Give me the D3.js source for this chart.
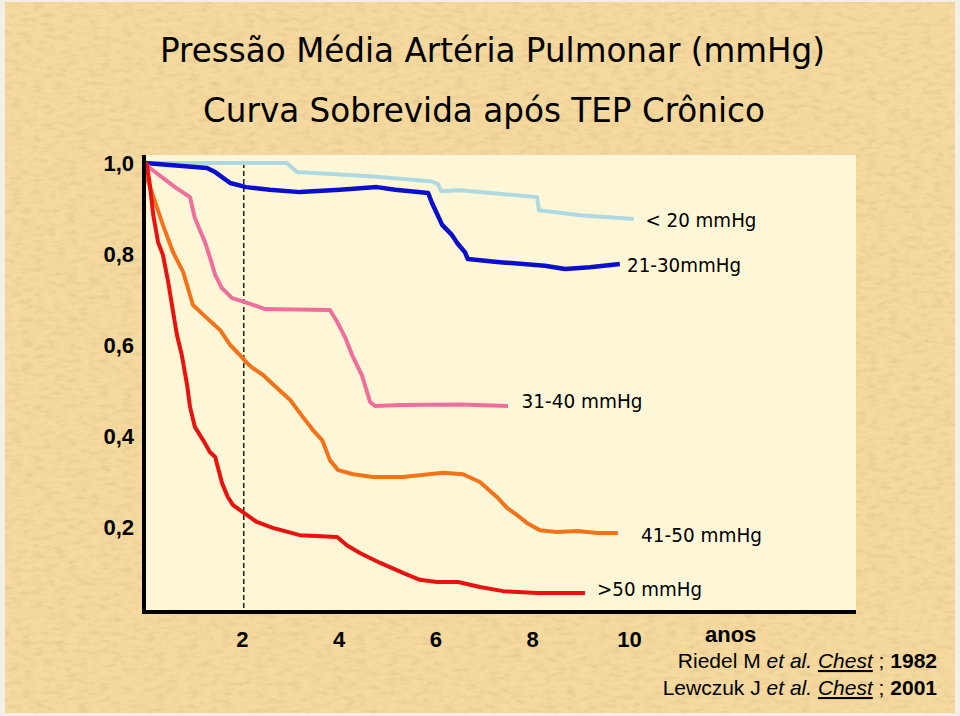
<!DOCTYPE html>
<html>
<head>
<meta charset="utf-8">
<script src="https://cdn.jsdelivr.net/npm/d3@7/dist/d3.min.js"></script>
<style>
  html, body { margin: 0; padding: 0; background: #f4efe4; }
  svg { display: block; }
</style>
</head>
<body>
<svg id="chart" width="960" height="716"></svg>
<script>
// ---------- DATA (years, survival proportion) ----------
const seriesNames = ["< 20 mmHg", "21-30mmHg", "31-40 mmHg", "41-50 mmHg", ">50 mmHg"];
const seriesColors = ["#aed8e2", "#0a0fcc", "#ef6e9c", "#f2731a", "#e8120f"];

const lt20 = [[0,1.000],[2.93,1.000],[3.14,0.980],[4.65,0.971],[5.89,0.960],[6.05,0.954],[6.12,0.938],[6.51,0.940],[8.10,0.925],[8.14,0.896],[8.99,0.885],[10.10,0.877]];
const m21_30 = [[0,1.000],[1.28,0.989],[1.45,0.980],[1.76,0.956],[2.09,0.947],[2.58,0.941],[3.20,0.936],[4.03,0.941],[4.79,0.947],[5.17,0.941],[5.85,0.934],[5.93,0.912],[6.14,0.864],[6.34,0.842],[6.45,0.824],[6.61,0.804],[6.67,0.789],[7.33,0.782],[8.26,0.774],[8.68,0.767],[9.19,0.771],[9.81,0.778]];
const m31_40 = [[0,1.000],[0.10,0.989],[0.62,0.947],[0.93,0.925],[1.03,0.879],[1.24,0.826],[1.34,0.793],[1.45,0.754],[1.59,0.725],[1.80,0.703],[2.13,0.692],[2.48,0.679],[3.82,0.677],[3.97,0.651],[4.13,0.618],[4.28,0.578],[4.48,0.534],[4.65,0.475],[4.75,0.466],[5.27,0.468],[6.51,0.469],[7.50,0.466]];
const m41_50 = [[0,0.996],[0.04,0.967],[0.21,0.914],[0.37,0.864],[0.58,0.804],[0.79,0.760],[0.99,0.688],[1.28,0.659],[1.55,0.633],[1.76,0.600],[1.96,0.578],[2.11,0.560],[2.23,0.549],[2.44,0.534],[2.62,0.516],[3.00,0.479],[3.26,0.442],[3.47,0.413],[3.66,0.391],[3.82,0.347],[3.99,0.325],[4.30,0.316],[4.71,0.310],[5.33,0.310],[6.16,0.319],[6.57,0.316],[6.92,0.299],[7.27,0.266],[7.48,0.242],[7.69,0.226],[7.89,0.209],[8.16,0.193],[8.51,0.189],[8.93,0.191],[9.34,0.187],[9.77,0.187]];
const gt50 = [[0,1.000],[0.04,0.996],[0.10,0.952],[0.17,0.886],[0.27,0.826],[0.37,0.798],[0.48,0.738],[0.58,0.673],[0.66,0.622],[0.76,0.578],[0.87,0.512],[0.93,0.464],[1.03,0.420],[1.20,0.391],[1.34,0.365],[1.45,0.354],[1.59,0.297],[1.71,0.266],[1.82,0.248],[2.11,0.226],[2.31,0.211],[2.64,0.198],[3.20,0.182],[3.97,0.178],[4.17,0.160],[4.44,0.143],[4.86,0.121],[5.33,0.099],[5.68,0.084],[6.03,0.079],[6.47,0.079],[6.92,0.068],[7.40,0.059],[8.10,0.055],[9.09,0.055]];

const seriesData = [lt20, m21_30, m31_40, m41_50, gt50];

// label anchor: [year, survival] for baseline-left of each curve label
const labelPos = [[10.34, 0.860], [9.96, 0.760], [7.78, 0.462], [10.25, 0.167], [9.34, 0.048]];

const xTicks = [2, 4, 6, 8, 10];
const yTicks = [0.2, 0.4, 0.6, 0.8, 1.0];
const xUnit = "anos";
const titleLines = ["Pressão Média Artéria Pulmonar (mmHg)", "Curva Sobrevida após TEP Crônico"];
const refs = [
  {author: "Riedel M ", etal: "et al.", journal: "Chest", year: "1982"},
  {author: "Lewczuk J ", etal: "et al.", journal: "Chest", year: "2001"}
];
const markerYear = 2;

// ---------- LAYOUT ----------
const svg = d3.select("#chart");
const x = d3.scaleLinear().domain([0, 10]).range([145, 629]);
const y = d3.scaleLinear().domain([0, 1]).range([618, 163]);
const plot = {left: 146, right: 856, top: 155, bottom: 611};

// texture filter
const defs = svg.append("defs");
const f = defs.append("filter").attr("id", "paper").attr("x", 0).attr("y", 0).attr("width", "100%").attr("height", "100%");
f.append("feTurbulence").attr("type", "fractalNoise").attr("baseFrequency", "0.09 0.22").attr("numOctaves", 3).attr("seed", 4).attr("result", "n");
f.append("feColorMatrix").attr("in", "n").attr("type", "matrix")
  .attr("values", "0 0 0 0 0.55  0 0 0 0 0.42  0 0 0 0 0.2  1.4 0 0 0 -0.62").attr("result", "dark");
f.append("feComposite").attr("in", "dark").attr("in2", "SourceGraphic").attr("operator", "in");

// background
svg.append("rect").attr("x", 0).attr("y", 0).attr("width", 960).attr("height", 716).attr("fill", "#f4efe4");
svg.append("rect").attr("x", 5).attr("y", 2).attr("width", 950).attr("height", 711).attr("fill", "#f6d99e");
svg.append("rect").attr("x", 5).attr("y", 2).attr("width", 950).attr("height", 711).attr("fill", "#f6d99e").attr("filter", "url(#paper)").attr("opacity", 0.5);

// plot area
svg.append("rect").attr("x", plot.left).attr("y", plot.top)
  .attr("width", plot.right - plot.left).attr("height", plot.bottom - plot.top).attr("fill", "#fef7d7");

// titles
const titleFont = "'DejaVu Sans', Verdana, sans-serif";
svg.append("text").attr("x", 160).attr("y", 62).attr("font-family", titleFont).attr("font-size", 34)
  .attr("textLength", 665).attr("lengthAdjust", "spacingAndGlyphs").attr("fill", "#000").text(titleLines[0]);
svg.append("text").attr("x", 203).attr("y", 122).attr("font-family", titleFont).attr("font-size", 34)
  .attr("textLength", 562).attr("lengthAdjust", "spacingAndGlyphs").attr("fill", "#000").text(titleLines[1]);

// dashed marker line
svg.append("line").attr("x1", x(markerYear) + 2).attr("x2", x(markerYear) + 2)
  .attr("y1", y(1)).attr("y2", plot.bottom)
  .attr("stroke", "#000").attr("stroke-width", 1.3).attr("stroke-dasharray", "5,3");

// curves
const line = d3.line().x(d => x(d[0])).y(d => y(d[1])).curve(d3.curveLinear);
const order = [0, 1, 2, 3, 4];
svg.append("g").selectAll("path").data(order).join("path")
  .attr("d", i => line(seriesData[i]))
  .attr("fill", "none")
  .attr("stroke", i => seriesColors[i])
  .attr("stroke-width", i => i === 1 ? 4.5 : 4)
  .attr("stroke-linejoin", "round")
  .attr("stroke-linecap", "butt");

// curve labels
const labelWidths = [111, 114, 121, 121, 105];
svg.append("g").selectAll("text").data(order).join("text")
  .attr("x", i => x(labelPos[i][0]))
  .attr("y", i => y(labelPos[i][1]))
  .attr("font-family", titleFont).attr("font-size", 19)
  .attr("textLength", i => labelWidths[i]).attr("lengthAdjust", "spacingAndGlyphs")
  .attr("fill", "#000")
  .text(i => seriesNames[i]);

// axes (labels only, via d3 axes)
const axFont = "'Liberation Sans', Arial, sans-serif";
const gx = svg.append("g").attr("transform", `translate(0,${plot.bottom})`)
  .call(d3.axisBottom(x).tickValues(xTicks).tickSize(0).tickPadding(20).tickFormat(d3.format("d")));
gx.select(".domain").remove();
gx.selectAll("text").attr("font-family", axFont).attr("font-size", 22).attr("font-weight", "bold").attr("fill", "#000");

const gy = svg.append("g").attr("transform", `translate(${x(0)},0)`)
  .call(d3.axisLeft(y).tickValues(yTicks).tickSize(0).tickPadding(11)
    .tickFormat(d => d3.format(".1f")(d).replace(".", ",")));
gy.select(".domain").remove();
gy.selectAll("text").attr("font-family", axFont).attr("font-size", 22).attr("font-weight", "bold").attr("fill", "#000");

// axis frame lines
svg.append("line").attr("x1", 144).attr("x2", 144).attr("y1", plot.top).attr("y2", plot.bottom + 2)
  .attr("stroke", "#000").attr("stroke-width", 4);
svg.append("line").attr("x1", 142).attr("x2", plot.right).attr("y1", plot.bottom + 1).attr("y2", plot.bottom + 1)
  .attr("stroke", "#000").attr("stroke-width", 4);

// x unit
svg.append("text").attr("x", 705).attr("y", 642).attr("font-family", axFont).attr("font-size", 22)
  .attr("font-weight", "bold").attr("fill", "#000").text(xUnit);

// references
const refY = [668, 695];
refs.forEach((r, k) => {
  const t = svg.append("text").attr("x", 937).attr("y", refY[k]).attr("text-anchor", "end")
    .attr("font-family", axFont).attr("font-size", 21).attr("fill", "#000");
  t.append("tspan").text(r.author);
  t.append("tspan").attr("font-style", "italic").text(r.etal + " ");
  t.append("tspan").attr("font-style", "italic").attr("text-decoration", "underline").text(r.journal);
  t.append("tspan").text(" ; ");
  t.append("tspan").attr("font-weight", "bold").text(r.year);
});
</script>
</body>
</html>
